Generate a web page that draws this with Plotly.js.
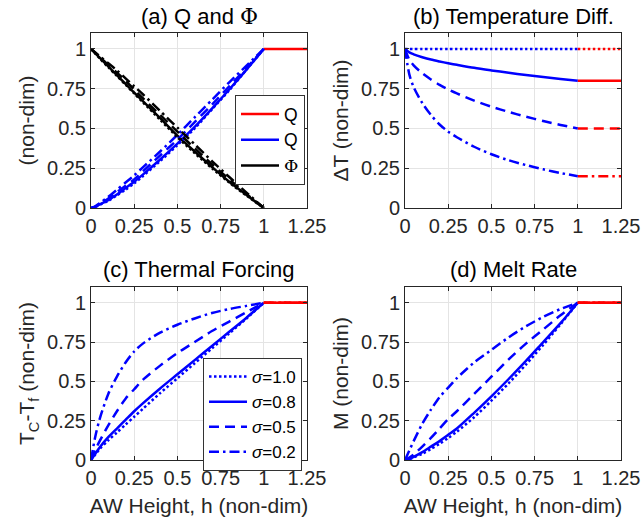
<!DOCTYPE html>
<html>
<head>
<meta charset="utf-8">
<script src="https://cdn.plot.ly/plotly-3.0.1.min.js"></script>
<style>html,body{margin:0;padding:0;background:#fff;}#chart{width:642px;height:520px;}</style>
</head>
<body>
<div id="chart"></div>
<script>
// ---- data ----
const h = [0, 0.025, 0.05, 0.1, 0.15, 0.2, 0.25, 0.3, 0.4, 0.5, 0.6, 0.7, 0.8, 0.9, 1.0];
const hExt = [1, 1.25];
const sigmaNames = ['σ=1.0', 'σ=0.8', 'σ=0.5', 'σ=0.2'];

// (a) volume flux Q and Phi
const Q_s10 = [0, 0.007, 0.02, 0.045, 0.08, 0.115, 0.155, 0.20, 0.295, 0.395, 0.50, 0.62, 0.74, 0.87, 1];
const Q_s08 = [0, 0.008, 0.022, 0.05, 0.085, 0.125, 0.165, 0.21, 0.305, 0.405, 0.51, 0.625, 0.745, 0.87, 1];
const Q_s05 = [0, 0.009, 0.025, 0.06, 0.10, 0.14, 0.18, 0.23, 0.33, 0.43, 0.54, 0.65, 0.765, 0.88, 1];
const Q_s02 = [0, 0.011, 0.03, 0.07, 0.115, 0.16, 0.205, 0.255, 0.355, 0.46, 0.57, 0.68, 0.79, 0.895, 1];
const Phi_s10 = [1, 0.97, 0.94, 0.885, 0.83, 0.775, 0.72, 0.665, 0.555, 0.445, 0.345, 0.25, 0.16, 0.078, 0];
const Phi_s08 = [1, 0.972, 0.945, 0.89, 0.835, 0.78, 0.725, 0.672, 0.565, 0.455, 0.355, 0.258, 0.165, 0.082, 0];
const Phi_s05 = [1, 0.975, 0.95, 0.90, 0.85, 0.80, 0.745, 0.69, 0.585, 0.48, 0.375, 0.275, 0.18, 0.088, 0];
const Phi_s02 = [1, 0.978, 0.955, 0.91, 0.865, 0.815, 0.765, 0.715, 0.61, 0.505, 0.40, 0.295, 0.195, 0.097, 0];
const Q_above = [1, 1];

// (b) temperature difference
const dT_s10 = [1, 1, 1, 1, 1, 1, 1, 1, 1, 1, 1, 1, 1, 1, 1];
const dT_s08 = [1, 0.978, 0.966, 0.948, 0.933, 0.921, 0.91, 0.90, 0.881, 0.865, 0.85, 0.836, 0.823, 0.811, 0.8];
const dT_s05 = [1, 0.932, 0.897, 0.847, 0.808, 0.774, 0.745, 0.72, 0.675, 0.637, 0.604, 0.574, 0.547, 0.522, 0.5];
const dT_s02 = [1, 0.84, 0.76, 0.66, 0.585, 0.525, 0.48, 0.445, 0.385, 0.338, 0.30, 0.27, 0.243, 0.22, 0.2];
const dT_above_s10 = [1, 1];
const dT_above_s08 = [0.8, 0.8];
const dT_above_s05 = [0.5, 0.5];
const dT_above_s02 = [0.2, 0.2];

// (c) thermal forcing
const TF_s10 = [0, 0.035, 0.07, 0.125, 0.175, 0.225, 0.275, 0.325, 0.425, 0.52, 0.615, 0.71, 0.805, 0.90, 1];
const TF_s08 = [0, 0.04, 0.08, 0.145, 0.20, 0.255, 0.31, 0.36, 0.455, 0.545, 0.635, 0.725, 0.815, 0.905, 1];
const TF_s05 = [0, 0.065, 0.12, 0.22, 0.31, 0.39, 0.45, 0.51, 0.60, 0.68, 0.75, 0.82, 0.88, 0.94, 1];
const TF_s02 = [0, 0.15, 0.26, 0.42, 0.53, 0.62, 0.69, 0.74, 0.81, 0.86, 0.90, 0.935, 0.96, 0.98, 1];
const TF_above = [1, 1];

// (d) melt rate
const M_s10 = [0, 0.006, 0.016, 0.04, 0.07, 0.103, 0.14, 0.18, 0.272, 0.377, 0.488, 0.607, 0.732, 0.863, 1];
const M_s08 = [0, 0.008, 0.02, 0.05, 0.085, 0.12, 0.16, 0.20, 0.30, 0.405, 0.515, 0.63, 0.75, 0.87, 1];
const M_s05 = [0, 0.015, 0.035, 0.085, 0.14, 0.20, 0.26, 0.31, 0.42, 0.53, 0.64, 0.74, 0.83, 0.92, 1];
const M_s02 = [0, 0.06, 0.12, 0.23, 0.32, 0.40, 0.46, 0.52, 0.62, 0.70, 0.78, 0.85, 0.91, 0.96, 1];
const M_above = [1, 1];

const xTickVals = [0, 0.25, 0.5, 0.75, 1, 1.25];
const xTickText = ['0', '0.25', '0.5', '0.75', '1', '1.25'];
const yTickVals = [0, 0.25, 0.5, 0.75, 1];
const yTickText = ['0', '0.25', '0.5', '0.75', '1'];

// ---- styles ----
const BLUE = '#0000ff', RED = '#ff0000', BLACK = '#000000';
const LW = 2.5;
const DASH = ['2.5px,2.5px', 'solid', '10px,6px', '10px,4px,2.5px,4px']; // dotted, solid, dashed, dash-dot
const PHI = '<span style="font-family:\'DejaVu Serif\',serif">Φ</span>';

const traces = [];
function add(x, y, color, dashIdx, xa, ya, opts) {
  traces.push(Object.assign({
    type: 'scatter', mode: 'lines', x: x, y: y, xaxis: xa, yaxis: ya,
    line: {color: color, width: LW, dash: DASH[dashIdx], shape: 'spline', smoothing: 0.8},
    showlegend: false, hoverinfo: 'skip'
  }, opts || {}));
}

// Panel (a)
const Qs = [Q_s10, Q_s08, Q_s05, Q_s02];
const Phis = [Phi_s10, Phi_s08, Phi_s05, Phi_s02];
add(hExt, Q_above, RED, 1, 'x', 'y', {name: 'Q', showlegend: true, legend: 'legend'});
add(h, Q_s08, BLUE, 1, 'x', 'y', {name: 'Q', showlegend: true, legend: 'legend'});
add(h, Phi_s08, BLACK, 1, 'x', 'y', {name: PHI, showlegend: true, legend: 'legend'});
[0, 2, 3].forEach(i => add(h, Qs[i], BLUE, i, 'x', 'y'));
[0, 2, 3].forEach(i => add(h, Phis[i], BLACK, i, 'x', 'y'));

// Panel (b)
const dTs = [dT_s10, dT_s08, dT_s05, dT_s02];
const dTa = [dT_above_s10, dT_above_s08, dT_above_s05, dT_above_s02];
for (let i = 0; i < 4; i++) {
  add(h, dTs[i], BLUE, i, 'x2', 'y2');
  add(hExt, dTa[i], RED, i, 'x2', 'y2');
}

// Panel (c)
const TFs = [TF_s10, TF_s08, TF_s05, TF_s02];
for (let i = 0; i < 4; i++) {
  add(h, TFs[i], BLUE, i, 'x3', 'y3', {name: '<i>σ</i>' + sigmaNames[i].slice(1), showlegend: true, legend: 'legend2'});
}
for (let i = 0; i < 4; i++) add(hExt, TF_above, RED, i, 'x3', 'y3');

// Panel (d)
const Ms = [M_s10, M_s08, M_s05, M_s02];
for (let i = 0; i < 4; i++) add(h, Ms[i], BLUE, i, 'x4', 'y4');
for (let i = 0; i < 4; i++) add(hExt, M_above, RED, i, 'x4', 'y4');

// ---- layout ----
const W = 642, H = 520;
const FONT = 'Liberation Sans, Arial, Helvetica, sans-serif';
const AXC = '#262626';
function px(a, b) { return [a / W, b / W]; }
function py(top, bottom) { return [1 - bottom / H, 1 - top / H]; }

function xAxis(domain, anchor, title) {
  const ax = {
    domain: domain, anchor: anchor, range: [0, 1.25],
    tickmode: 'array', tickvals: xTickVals, ticktext: xTickText,
    ticks: 'inside', ticklen: 4, tickwidth: 1, tickcolor: AXC,
    showline: true, mirror: 'ticks', linecolor: AXC, linewidth: 1,
    showgrid: true, gridcolor: '#e4e4e4', gridwidth: 1, zeroline: false,
    tickfont: {family: FONT, size: 20, color: AXC}
  };
  if (title) ax.title = {text: title, font: {family: FONT, size: 21, color: AXC}, standoff: 10};
  return ax;
}
function yAxis(domain, anchor, title) {
  return {
    domain: domain, anchor: anchor, range: [0, 1.1],
    tickmode: 'array', tickvals: yTickVals, ticktext: yTickText,
    ticks: 'inside', ticklen: 4, tickwidth: 1, tickcolor: AXC,
    showline: true, mirror: 'ticks', linecolor: AXC, linewidth: 1,
    showgrid: true, gridcolor: '#e4e4e4', gridwidth: 1, zeroline: false,
    tickfont: {family: FONT, size: 20, color: AXC},
    title: {text: title, font: {family: FONT, size: 21, color: AXC}, standoff: 6}
  };
}

const dxL = px(91, 307), dxR = px(405, 621);
const dyT = py(33, 208), dyB = py(287, 460);

function titleAnn(text, cx, cy) {
  return {text: text, x: cx / W, y: 1 - cy / H, xref: 'paper', yref: 'paper',
    xanchor: 'center', yanchor: 'middle', showarrow: false,
    font: {family: FONT, size: 22, color: '#000'}};
}

const layout = {
  width: W, height: H,
  margin: {l: 0, r: 0, t: 0, b: 0},
  paper_bgcolor: '#fff', plot_bgcolor: '#fff',
  font: {family: FONT, color: AXC},
  xaxis: xAxis(dxL, 'y', ''),
  yaxis: yAxis(dyT, 'x', '(non-dim)'),
  xaxis2: xAxis(dxR, 'y2', ''),
  yaxis2: yAxis(dyT, 'x2', 'ΔT (non-dim)'),
  xaxis3: xAxis(dxL, 'y3', 'AW Height, h (non-dim)'),
  yaxis3: yAxis(dyB, 'x3', 'T<sub>C</sub>-T<sub>f</sub> (non-dim)'),
  xaxis4: xAxis(dxR, 'y4', 'AW Height, h (non-dim)'),
  yaxis4: yAxis(dyB, 'x4', 'M (non-dim)'),
  legend: {
    x: 305 / W, xanchor: 'right', y: 1 - 95 / H, yanchor: 'top',
    bgcolor: '#fff', bordercolor: '#333', borderwidth: 1,
    font: {family: FONT, size: 17.5, color: '#000'}, itemwidth: 38, tracegroupgap: 0
  },
  legend2: {
    x: 302 / W, xanchor: 'right', y: 1 - 358 / H, yanchor: 'top',
    bgcolor: '#fff', bordercolor: '#333', borderwidth: 1,
    font: {family: FONT, size: 17, color: '#000'}, itemwidth: 38, tracegroupgap: 0
  },
  annotations: [
    titleAnn('(a) Q and ' + PHI, 199, 17),
    titleAnn('(b) Temperature Diff.', 513, 17),
    titleAnn('(c) Thermal Forcing', 199, 269),
    titleAnn('(d) Melt Rate', 513, 269)
  ]
};

Plotly.newPlot('chart', traces, layout, {displayModeBar: false, staticPlot: true});
</script>
</body>
</html>
